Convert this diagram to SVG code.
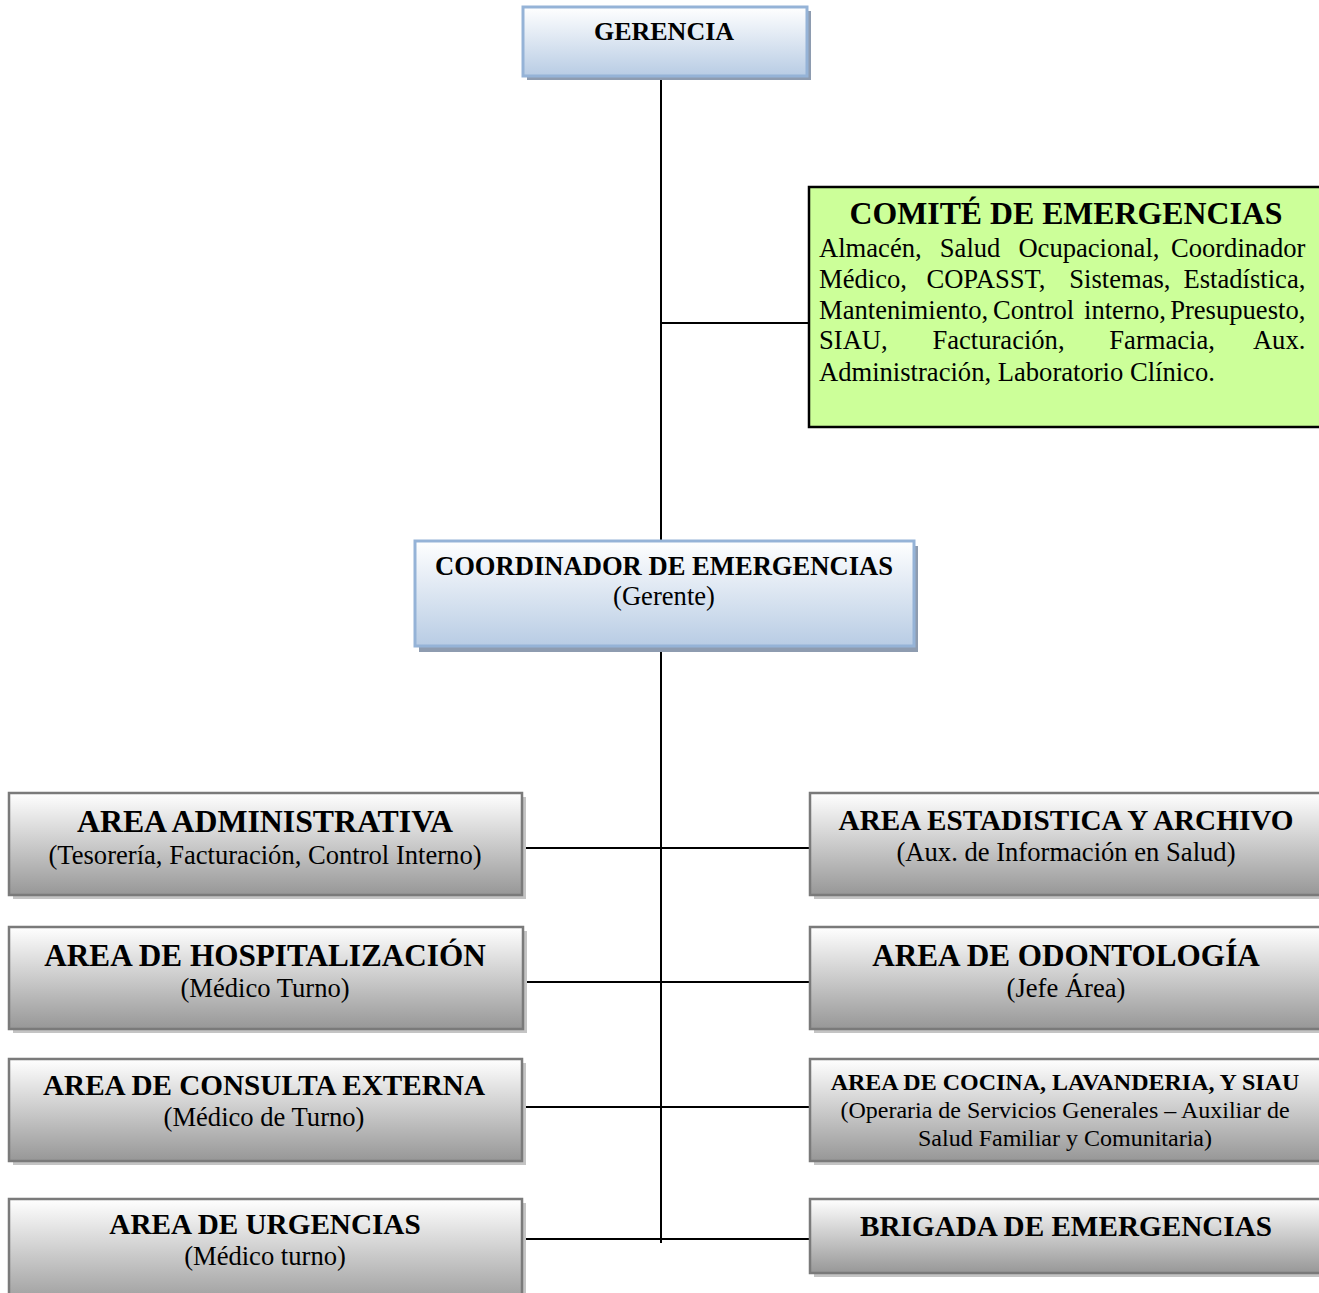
<svg xmlns="http://www.w3.org/2000/svg" width="1319" height="1293" viewBox="0 0 1319 1293">
<defs>
<linearGradient id="gBlue" x1="0" y1="0" x2="0" y2="1">
<stop offset="0" stop-color="#ffffff"/>
<stop offset="1" stop-color="#b8cce4"/>
</linearGradient>
<linearGradient id="gGray" x1="0" y1="0" x2="0" y2="1">
<stop offset="0" stop-color="#ffffff"/>
<stop offset="1" stop-color="#979797"/>
</linearGradient>
<style>
.blue{fill:url(#gBlue);stroke:#95b3d7;stroke-width:3}
.bshadow{fill:#8e9cb0}
.gray{fill:url(#gGray);stroke:#7a7a7a;stroke-width:2.5}
.gshadow{fill:#c4c4c4}
.t{font-family:"Liberation Serif","Times New Roman",serif;fill:#000;text-anchor:middle}
.b{font-weight:bold}
.conn{stroke:#000;stroke-width:2;fill:none}
</style>
</defs>
<rect width="1319" height="1293" fill="#ffffff"/>

<g id="connectors">
<line class="conn" x1="661" y1="76" x2="661" y2="541"/>
<line class="conn" x1="661" y1="323" x2="808" y2="323"/>
<line class="conn" x1="661" y1="646" x2="661" y2="1243"/>
<line class="conn" x1="522" y1="848" x2="810" y2="848"/>
<line class="conn" x1="524" y1="982" x2="810" y2="982"/>
<line class="conn" x1="516" y1="1107" x2="810" y2="1107"/>
<line class="conn" x1="522" y1="1239" x2="810" y2="1239"/>
</g>

<g id="gerencia">
<rect class="bshadow" x="527" y="11" width="284" height="69"/>
<rect class="blue" x="523" y="7" width="284" height="69"/>
<text class="t b" x="664" y="40" font-size="26">GERENCIA</text>
</g>

<g id="comite">
<rect x="809" y="187" width="520" height="240" fill="#ccff99" stroke="#000" stroke-width="2.5"/>
<text class="t b" x="1066" y="224" font-size="31.8">COMITÉ DE EMERGENCIAS</text>
<text font-family="Liberation Serif, Times New Roman, serif" font-size="26.6" fill="#000">
<tspan x="819" y="257">Almacén,</tspan><tspan x="939.8" y="257">Salud</tspan><tspan x="1018.4" y="257">Ocupacional,</tspan><tspan x="1312" y="257" text-anchor="end">Coordinador</tspan>
<tspan x="819" y="288">Médico,</tspan><tspan x="926.4" y="288">COPASST,</tspan><tspan x="1069.3" y="288">Sistemas,</tspan><tspan x="1312" y="288" text-anchor="end">Estadística,</tspan>
<tspan x="819" y="319">Mantenimiento,</tspan><tspan x="993" y="319">Control</tspan><tspan x="1084" y="319">interno,</tspan><tspan x="1312" y="319" text-anchor="end">Presupuesto,</tspan>
<tspan x="819" y="349">SIAU,</tspan><tspan x="932.4" y="349">Facturación,</tspan><tspan x="1109.3" y="349">Farmacia,</tspan><tspan x="1312" y="349" text-anchor="end">Aux.</tspan>
<tspan x="819" y="381">Administración, Laboratorio Clínico.</tspan>
</text>
</g>

<g id="coordinador">
<rect class="bshadow" x="419" y="546" width="499" height="106"/>
<rect class="blue" x="415" y="541" width="499" height="105"/>
<text class="t b" x="664" y="575" font-size="26.6">COORDINADOR DE EMERGENCIAS</text>
<text class="t" x="664" y="605" font-size="26.6">(Gerente)</text>
</g>

<g id="area-administrativa">
<rect class="gshadow" x="13" y="797" width="513" height="102"/>
<rect class="gray" x="9" y="793" width="513" height="102"/>
<text class="t b" x="265" y="832" font-size="31.8">AREA ADMINISTRATIVA</text>
<text class="t" x="265" y="864" font-size="26.6">(Tesorería, Facturación, Control Interno)</text>
</g>

<g id="area-estadistica">
<rect class="gshadow" x="814" y="797" width="520" height="102"/>
<rect class="gray" x="810" y="793" width="520" height="102"/>
<text class="t b" x="1066" y="830" font-size="29.2">AREA ESTADISTICA Y ARCHIVO</text>
<text class="t" x="1066" y="861" font-size="26.6">(Aux. de Información en Salud)</text>
</g>

<g id="area-hospitalizacion">
<rect class="gshadow" x="13" y="931" width="514" height="102"/>
<rect class="gray" x="9" y="927" width="514" height="102"/>
<text class="t b" x="265" y="966" font-size="31.2">AREA DE HOSPITALIZACIÓN</text>
<text class="t" x="265" y="997" font-size="26.6">(Médico Turno)</text>
</g>

<g id="area-odontologia">
<rect class="gshadow" x="814" y="931" width="520" height="102"/>
<rect class="gray" x="810" y="927" width="520" height="102"/>
<text class="t b" x="1066" y="966" font-size="31.2">AREA DE ODONTOLOGÍA</text>
<text class="t" x="1066" y="997" font-size="26.6">(Jefe Área)</text>
</g>

<g id="area-consulta">
<rect class="gshadow" x="13" y="1063" width="513" height="102"/>
<rect class="gray" x="9" y="1059" width="513" height="102"/>
<text class="t b" x="264" y="1095" font-size="29.2">AREA DE CONSULTA EXTERNA</text>
<text class="t" x="264" y="1126" font-size="26.6">(Médico de Turno)</text>
</g>

<g id="area-cocina">
<rect class="gshadow" x="814" y="1063" width="520" height="102"/>
<rect class="gray" x="810" y="1059" width="520" height="102"/>
<text class="t b" x="1065" y="1090" font-size="24">AREA DE COCINA, LAVANDERIA, Y SIAU</text>
<text class="t" x="1065" y="1118" font-size="24">(Operaria de Servicios Generales – Auxiliar de</text>
<text class="t" x="1065" y="1146" font-size="24">Salud Familiar y Comunitaria)</text>
</g>

<g id="area-urgencias">
<rect class="gshadow" x="13" y="1203" width="513" height="110"/>
<rect class="gray" x="9" y="1199" width="513" height="110"/>
<text class="t b" x="265" y="1234" font-size="29.2">AREA DE URGENCIAS</text>
<text class="t" x="265" y="1265" font-size="26.6">(Médico turno)</text>
</g>

<g id="brigada">
<rect class="gshadow" x="814" y="1203" width="520" height="74"/>
<rect class="gray" x="810" y="1199" width="520" height="74"/>
<text class="t b" x="1066" y="1236" font-size="29.2">BRIGADA DE EMERGENCIAS</text>
</g>
</svg>
